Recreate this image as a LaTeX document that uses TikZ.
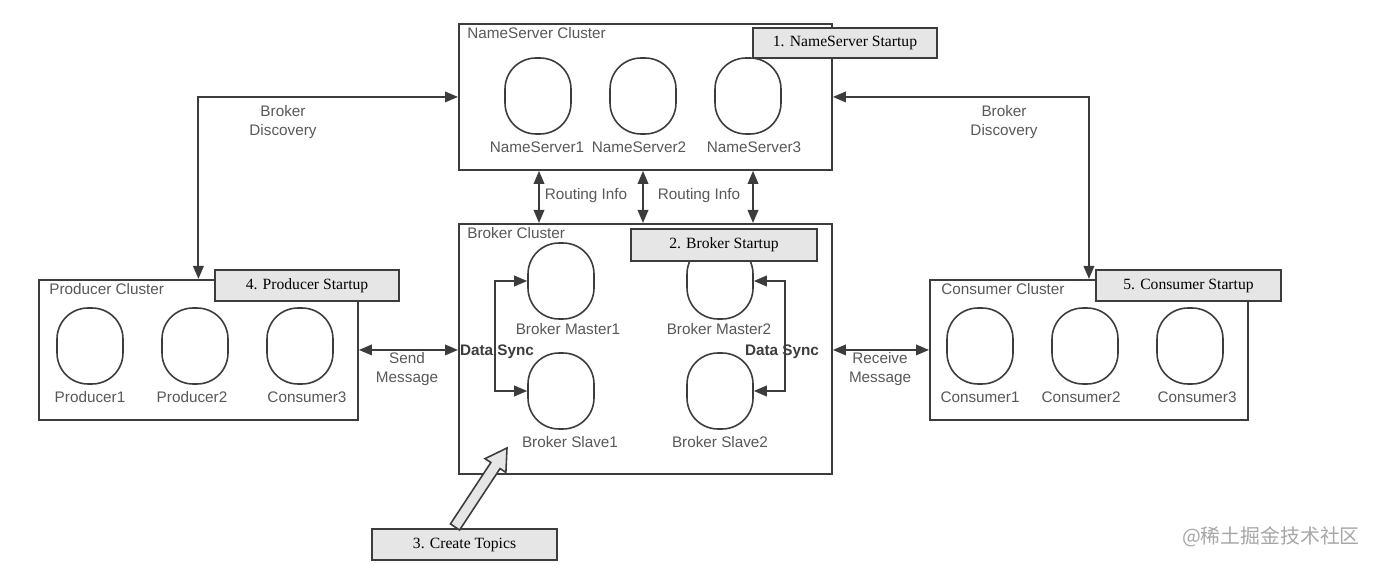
\documentclass[tikz,border=0pt]{standalone}
\usepackage{fontspec}
\setmainfont{Liberation Serif}
\setsansfont{Liberation Sans}
\newfontfamily\cjk{Noto Sans CJK SC}
\usepackage{tikz}
\usetikzlibrary{arrows.meta,positioning,calc}
\definecolor{edge}{RGB}{60,60,60}
\definecolor{txt}{RGB}{88,88,88}
\definecolor{tag}{RGB}{230,230,230}
\tikzset{
  cluster/.style={draw=edge, line width=1.1pt, fill=white, anchor=north west, inner sep=0pt},
  ctitle/.style={font=\sffamily\fontsize{8.7}{10}\selectfont, text=txt, anchor=west, inner sep=0pt},
  % 进程（圆角）
  proc/.style={draw=edge, line width=0.9pt, rounded corners=0.62cm, minimum width=1.32cm, minimum height=1.52cm},
  plbl/.style={font=\sffamily\fontsize{8.7}{10}\selectfont, text=txt, inner sep=0pt},
  % 步骤标签
  stepbox/.style={draw=edge, line width=1.1pt, fill=tag, minimum height=0.62cm, minimum width=3.7cm,
    inner sep=0pt, font=\rmfamily\fontsize{8.9}{10}\selectfont},
  link/.style={draw=edge, line width=1.1pt, {Triangle[length=2.6mm,width=2.1mm]}-{Triangle[length=2.6mm,width=2.1mm]}},
  llbl/.style={font=\sffamily\fontsize{8.7}{10.8}\selectfont, text=txt, align=center, inner sep=0pt},
  sync/.style={font=\sffamily\bfseries\fontsize{8.7}{10}\selectfont, text=edge, inner sep=0pt},
  hollow/.style={draw=edge, line width=0.9pt, fill=tag, line join=miter}
}
\begin{document}
\begin{tikzpicture}[x=0.02cm, y=-0.02cm, font=\sffamily]
  \useasboundingbox (0,0) rectangle (1375,570);
  % 集群
  \node[cluster, minimum width=7.46cm, minimum height=2.92cm] (ns) at (458,23){};
  \node[cluster, minimum width=7.46cm, minimum height=5.0cm] (bc) at (458,223){};
  \node[cluster, minimum width=6.38cm, minimum height=2.8cm] (pc) at (38,279){};
  \node[cluster, minimum width=6.36cm, minimum height=2.8cm] (cc) at (929,279){};
  \node[ctitle] at (467,33){NameServer Cluster};
  \node[ctitle] at (467,233){Broker Cluster};
  \node[ctitle] at (49,289){Producer Cluster};
  \node[ctitle] at (941,289){Consumer Cluster};
  % NameServer
  \foreach \x/\n in {538/1,643/2,748/3}
    \node[proc] (ns\n) at (\x,96){};
  \node[plbl] at (537,147){NameServer1};
  \node[plbl] at (639,147){NameServer2};
  \node[plbl] at (754,147){NameServer3};
  % Broker
  \node[proc] (bm1) at (561,281){};
  \node[proc] (bm2) at (720,281){};
  \node[proc] (bs1) at (561,391){};
  \node[proc] (bs2) at (720,391){};
  \node[plbl] at (568,329){Broker Master1};
  \node[plbl] at (719,329){Broker Master2};
  \node[plbl] at (570,442){Broker Slave1};
  \node[plbl] at (720,442){Broker Slave2};
  % Producer / Consumer
  \foreach \x/\n in {90/1,195/2,300/3}
    \node[proc] (p\n) at (\x,346){};
  \foreach \x/\n in {980/1,1085/2,1190/3}
    \node[proc] (c\n) at (\x,346){};
  \node[plbl] at (90,397){Producer1};
  \node[plbl] at (192,397){Producer2};
  \node[plbl] at (307,397){Consumer3};
  \node[plbl] at (980,397){Consumer1};
  \node[plbl] at (1081,397){Consumer2};
  \node[plbl] at (1197,397){Consumer3};
  % 步骤
  \node[stepbox, minimum width=3.68cm, minimum height=0.6cm] (s1) at (845,43){1. NameServer Startup};
  \node[stepbox, minimum width=3.72cm, minimum height=0.64cm] (s2) at (724,245){2. Broker Startup};
  \node[stepbox] (s3) at (464.5,544.5){3. Create Topics};
  \node[stepbox, minimum width=3.68cm] (s4) at (307,285.5){4. Producer Startup};
  \node[stepbox] (s5) at (1188.5,285.5){5. Consumer Startup};
  % 连线
  \draw[link] (ns.west) -| (pc.north);
  \draw[link] (ns.east) -| (cc.north);
  \node[llbl] at (283,122){Broker\\Discovery};
  \node[llbl] at (1004,122){Broker\\Discovery};
  \foreach \x in {539,643,753}
    \draw[link] (ns.south -| \x,0) -- (bc.north -| \x,0);
  \node[llbl] at (586,196){Routing Info};
  \node[llbl] at (699,196){Routing Info};
  \draw[link] (pc.east) -- (bc.west |- pc.east);
  \draw[link] (bc.east |- cc.west) -- (cc.west);
  \node[llbl] at (407,369){Send\\Message};
  \node[llbl] at (880,369){Receive\\Message};
  \draw[link] (bm1.west) -- ++(-32,0) |- (bs1.west);
  \draw[link] (bm2.east) -- ++(31,0) |- (bs2.east);
  \node[sync] at (497,352){Data Sync};
  \node[sync] at (782,352){Data Sync};
  % 空心箭头
  \coordinate (topictail) at (455,527);
  \coordinate (topictip) at (507,448);
  \coordinate (hc) at ($(topictip)!0.42cm!(topictail)$);
  \draw[hollow] ($(topictail)!0.11cm!90:(topictip)$) -- ($(hc)!0.11cm!90:(topictip)$)
    -- ($(hc)!0.25cm!90:(topictip)$) -- (topictip) -- ($(hc)!0.25cm!-90:(topictip)$)
    -- ($(hc)!0.11cm!-90:(topictip)$) -- ($(topictail)!0.11cm!-90:(topictip)$) -- cycle;
  \node[text=black!35, font=\cjk\fontsize{11.3}{12}\selectfont, inner sep=0pt] (wm) at (1271,537){@稀土掘金技术社区};
\end{tikzpicture}
\end{document}
